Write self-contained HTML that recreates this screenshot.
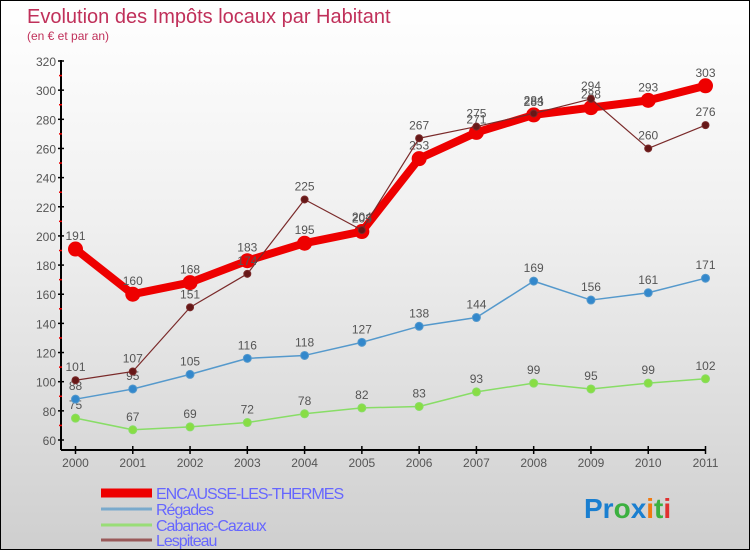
<!DOCTYPE html>
<html><head><meta charset="utf-8"><style>
body{margin:0}
#c{position:relative;width:748px;height:548px;border:1px solid #000;background:linear-gradient(#fff,#f0f0f0 40%,#cfcfcf);font-family:"Liberation Sans",sans-serif;overflow:hidden}
svg text{font-family:"Liberation Sans",sans-serif}
</style></head><body>
<div id="c">
<svg id="s" width="748" height="548">
<text x="26" y="22" font-size="20" fill="#c0305a">Evolution des Impôts locaux par Habitant</text>
<text x="26" y="39" font-size="12" fill="#c0305a">(en € et par an)</text>
<text x="583" y="517" font-size="28" font-weight="bold"><tspan fill="#1a7fd0">Pr</tspan><tspan fill="#3cb040">o</tspan><tspan fill="#1a7fd0">x</tspan><tspan fill="#f07a10">i</tspan><tspan fill="#3cb040">t</tspan><tspan fill="#e03030">i</tspan></text>
</svg>
</div>
<script>
const years=[2000,2001,2002,2003,2004,2005,2006,2007,2008,2009,2010,2011];
const encausse=[191,160,168,183,195,203,253,271,283,288,293,303];
const regades=[88,95,105,116,118,127,138,144,169,156,161,171];
const cabanac=[75,67,69,72,78,82,83,93,99,95,99,102];
const lespiteau=[101,107,151,174,225,204,267,275,284,294,260,276];
const yTicks=[60,80,100,120,140,160,180,200,220,240,260,280,300,320];
const names=["ENCAUSSE-LES-THERMES","Régades","Cabanac-Cazaux","Lespiteau"];
const NS="http://www.w3.org/2000/svg";
const s=document.getElementById('s');
const X=i=>74.5+i*(630/11);
const Y=v=>439-(v-60)*(379/260);
function mk(t,a,p){const e=document.createElementNS(NS,t);for(const k in a)e.setAttribute(k,a[k]);(p||s).appendChild(e);return e;}
let e=mk('line',{x1:60,y1:59,x2:60,y2:449,stroke:'#000','stroke-width':2});

e=mk('line',{x1:60,y1:449,x2:705,y2:449,stroke:'#000','stroke-width':2});

yTicks.forEach((v,k)=>{
 mk('line',{x1:57,y1:Y(v),x2:63,y2:Y(v),stroke:'#000','stroke-width':1.5});
 if(k<yTicks.length-1)mk('line',{x1:58,y1:Y(v+10),x2:61,y2:Y(v+10),stroke:'#e00','stroke-width':1.5});
 const t=mk('text',{x:55,y:Y(v)+5,'text-anchor':'end','font-size':12,fill:'#555'});t.textContent=v;
 
});
years.forEach((y,i)=>{
 mk('line',{x1:X(i),y1:445,x2:X(i),y2:453,stroke:'#000','stroke-width':1.5});
 const t=mk('text',{x:X(i),y:466,'text-anchor':'middle','font-size':12,fill:'#555'});t.textContent=y;
 
});
function series(d,color,w,r,fill,name){
 const g=mk('g',{});
 
 mk('polyline',{points:d.map((v,i)=>X(i)+','+Y(v)).join(' '),fill:'none',stroke:color,'stroke-width':w,'stroke-linejoin':'round'},g);
 d.forEach((v,i)=>{
  const c=mk('circle',{cx:X(i),cy:Y(v),r:r,fill:fill,stroke:color,'stroke-width':1},g);
  
  const t=mk('text',{x:X(i),y:Y(v)-9,'text-anchor':'middle','font-size':12,fill:'#555'},g);t.textContent=v;
 });
}
series(cabanac,'#88dd66',1.5,4,'#88dd44','series-cabanac-cazaux');
series(regades,'#5599cc',1.5,4,'#3388cc','series-regades');
series(encausse,'#ee0000',8,7,'#ee0000','series-encausse-les-thermes');
series(lespiteau,'#7a2a2a',1.2,3.5,'#661818','series-lespiteau');
const lc=['#ee0000','#7aaacc','#99dd77','#9a5a5a'],lw=[9,3,3,3],ly=[492,508,524,539];
names.forEach((n,k)=>{
 const r=mk('line',{x1:100,y1:ly[k],x2:151,y2:ly[k],stroke:lc[k],'stroke-width':lw[k]});
 
 const t=mk('text',{x:155,y:ly[k]+6,'font-size':16,fill:'#6666ff','letter-spacing':'-1'});t.textContent=n;
 
});
</script>
</body></html>
